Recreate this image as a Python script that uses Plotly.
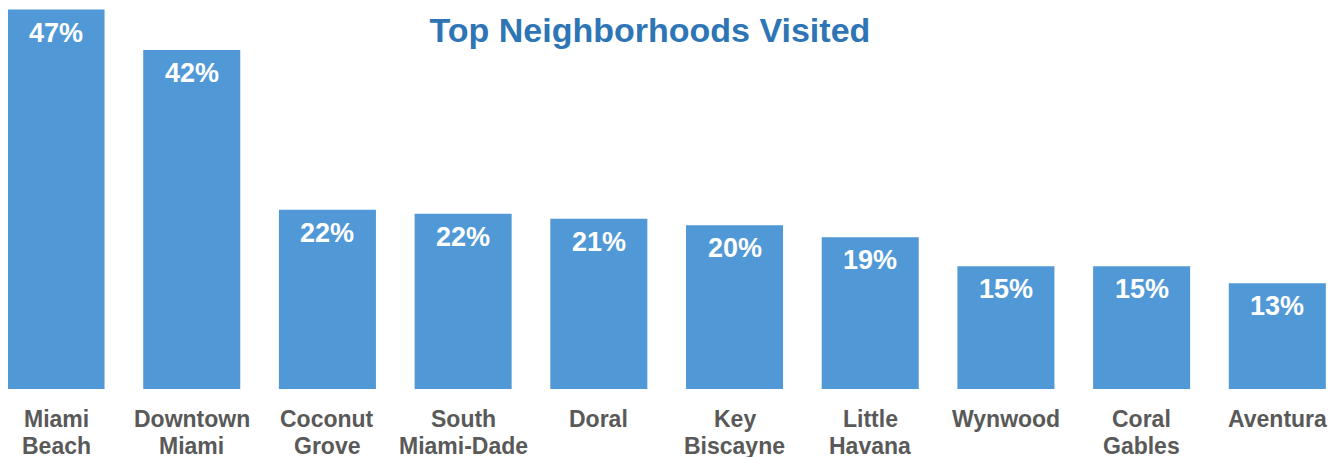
import plotly.graph_objects as go

# Top neighborhoods visited, share of respondents (%)
neighborhoods = ["Miami<br>Beach", "Downtown<br>Miami", "Coconut<br>Grove", "South<br>Miami-Dade",
                 "Doral", "Key<br>Biscayne", "Little<br>Havana", "Wynwood", "Coral<br>Gables", "Aventura"]
share = [47, 42, 22.2, 21.7, 21.1, 20.3, 18.8, 15.2, 15.2, 13.1]
share_labels = ["47%", "42%", "22%", "22%", "21%", "20%", "19%", "15%", "15%", "13%"]

bar_color = "#5199D6"
title_color = "#2E75B6"
label_grey = "#595959"
font_fam = "Liberation Sans, Arial"

fig = go.Figure()
fig.add_trace(go.Bar(
    x=neighborhoods, y=share,
    marker=dict(color=bar_color, line=dict(width=0)),
    hoverinfo="y",
))

# value labels just inside the top of each bar
for name, val, lab in zip(neighborhoods, share, share_labels):
    fig.add_annotation(x=name, y=val, text=lab, showarrow=False,
                       yanchor="top", yshift=-6,
                       font=dict(family=font_fam, size=27, color="white", weight="bold"))

# category labels, one annotation per line so the line spacing stays tight
for name in neighborhoods:
    for k, line in enumerate(name.split("<br>")):
        fig.add_annotation(x=name, y=0, yref="paper", text=line, showarrow=False,
                           yanchor="top", yshift=-15 - 27 * k,
                           font=dict(family=font_fam, size=23, color=label_grey, weight="bold"))

fig.update_layout(
    title=dict(text="<b>Top Neighborhoods Visited</b>", x=0.478, xanchor="center",
               yref="container", y=0.952, yanchor="middle",
               font=dict(family=font_fam, size=34, color=title_color)),
    width=1343, height=457,
    margin=dict(l=0, r=0, t=0, b=76),
    plot_bgcolor="white", paper_bgcolor="white",
    bargap=0.285,
    showlegend=False,
)
fig.update_xaxes(range=[-0.354, 9.543], showline=False, ticks="", showticklabels=False)
fig.update_yaxes(range=[0, 47.2], visible=False, showgrid=False)

fig.write_html("out.html")
